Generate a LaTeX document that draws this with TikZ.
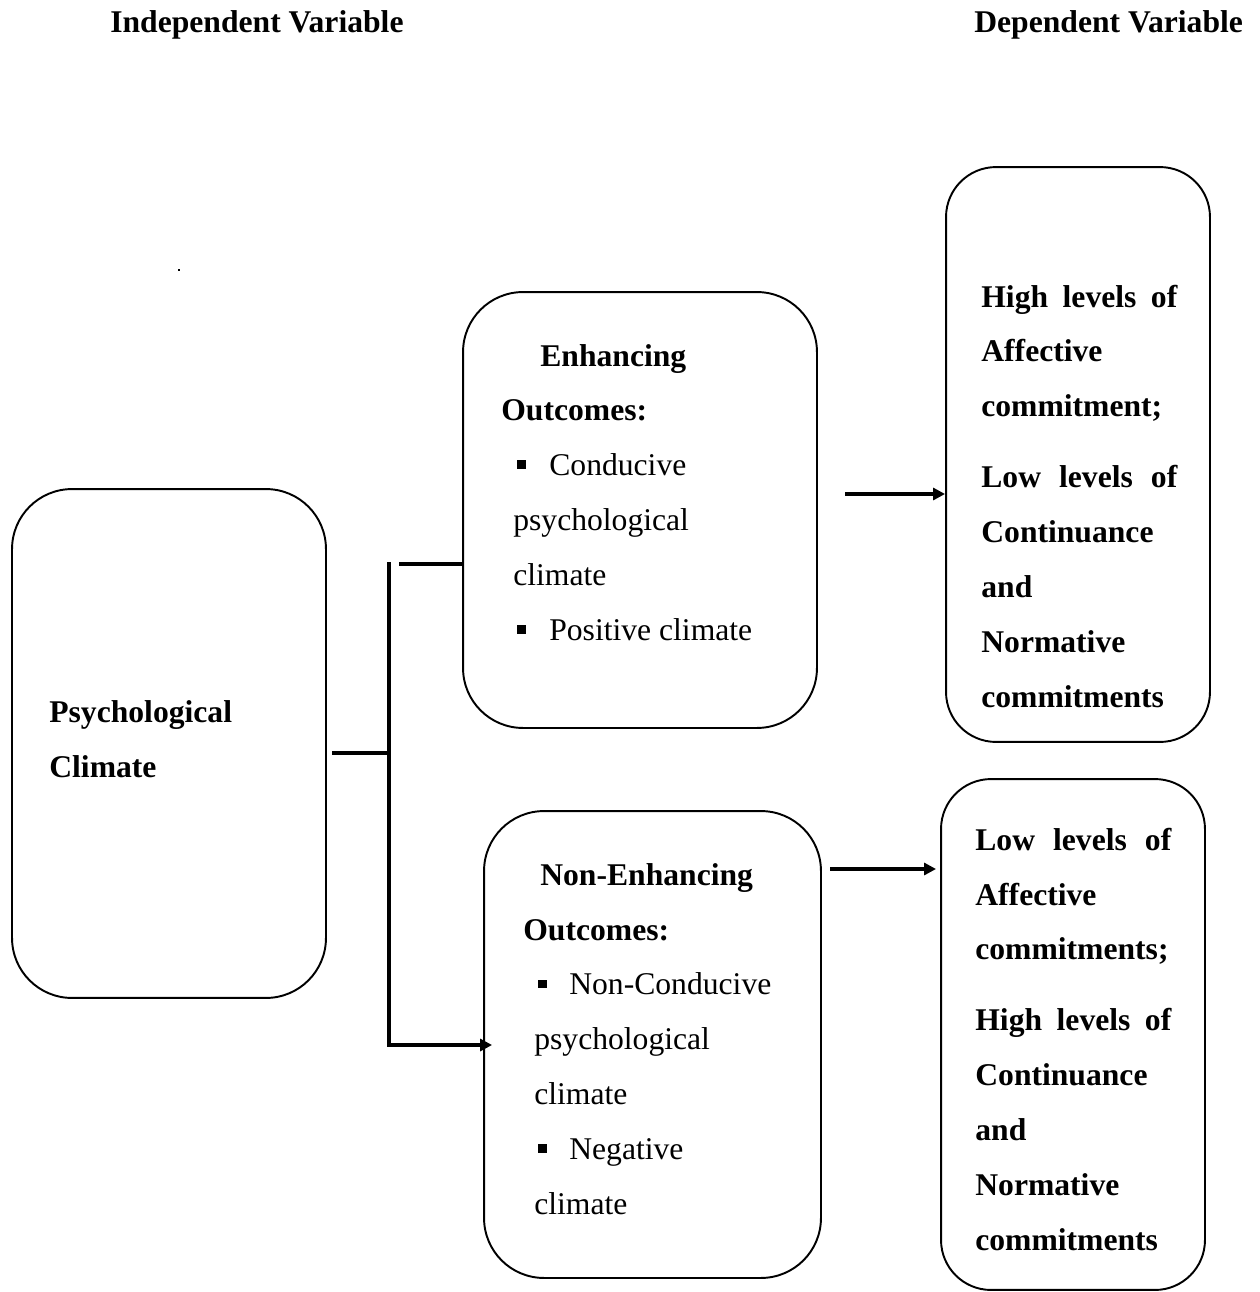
\documentclass[tikz,border=0pt]{standalone}
\usepackage{fontspec}
\setmainfont{Liberation Serif}
\usetikzlibrary{arrows.meta}
\newcommand\sqbullet{\rule[0.14cm]{0.17cm}{0.17cm}}
\begin{document}
\begin{tikzpicture}[x=0.02cm,y=-0.02cm,
  box/.style={draw, line width=1.1pt, rounded corners=1.2cm, inner sep=0pt},
  rbox/.style={box, rounded corners=1.0cm},
  txt/.style={anchor=base west, inner sep=0pt, font=\fontsize{18pt}{31.3pt}\selectfont},
  txtb/.style={txt, font=\fontsize{18pt}{31.3pt}\selectfont\bfseries},
  conn/.style={line width=1.8pt},
  arr/.style={conn, -{Triangle[length=0.24cm,width=0.24cm]}}]
\useasboundingbox (0,0) rectangle (1260,1292);

% headers
\node[txtb] (hind) at (110,32) {Independent Variable};
\node[txtb] (hdep) at (974,32) {Dependent Variable};

% small dot
\fill (178,269) rectangle (180,271);

% boxes
\node[box, minimum width=6.28cm, minimum height=10.18cm] (pc) at (169,743.5) {};
\node[box, minimum width=7.08cm, minimum height=8.72cm] (enh) at (640,510) {};
\node[box, minimum width=6.74cm, minimum height=9.34cm] (non) at (652.5,1044.5) {};
\node[rbox, minimum width=5.28cm, minimum height=11.5cm] (hi) at (1078,454.5) {};
\node[rbox, minimum width=5.28cm, minimum height=10.22cm] (lo) at (1073,1034.5) {};

% texts
\node[txtb] (pcT) at (49,722) {\begin{tabular}[t]{@{}l@{}}
Psychological\\
Climate
\end{tabular}};

\node[txt] (enhT) at (501,366) {\begin{tabular}[t]{@{}l@{}}
\hspace{0.78cm}\textbf{Enhancing}\\
\textbf{Outcomes:}\\
\hspace{0.32cm}\sqbullet\hspace{0.47cm}Conducive\\
\hspace{0.24cm}psychological\\
\hspace{0.24cm}climate\\
\hspace{0.32cm}\sqbullet\hspace{0.47cm}Positive climate
\end{tabular}};

\node[txt] (nonT) at (523,885) {\begin{tabular}[t]{@{}l@{}}
\hspace{0.34cm}\textbf{Non-Enhancing}\\
\textbf{Outcomes:}\\
\hspace{0.30cm}\sqbullet\hspace{0.45cm}Non-Conducive\\
\hspace{0.22cm}psychological\\
\hspace{0.22cm}climate\\
\hspace{0.30cm}\sqbullet\hspace{0.45cm}Negative\\
\hspace{0.22cm}climate
\end{tabular}};

\node[txtb] (hiT) at (981,307) {\begin{tabular}[t]{@{}l@{}}
\makebox[3.92cm][s]{High levels of}\\
Affective\\
commitment;\\[0.32cm]
\makebox[3.92cm][s]{Low levels of}\\
Continuance\\
and\\
Normative\\
commitments
\end{tabular}};

\node[txtb] (loT) at (975,850) {\begin{tabular}[t]{@{}l@{}}
\makebox[3.92cm][s]{Low levels of}\\
Affective\\
commitments;\\[0.32cm]
\makebox[3.92cm][s]{High levels of}\\
Continuance\\
and\\
Normative\\
commitments
\end{tabular}};

% connectors
\coordinate (s) at (332,753);
\coordinate (j) at (389,753);
\coordinate (bt) at (389,562);
\coordinate (bb) at (389,1045);
\coordinate (t1) at (399,564);
\coordinate (a1) at (845,494);
\coordinate (a2) at (830,869);

\draw[conn] (s) -- (j);
\draw[conn] (bt) -- (bb);
\draw[conn] (t1) -- (enh.west |- t1);
\draw[arr] ([xshift=-0.9pt]bb) -- ([xshift=0.18cm]non.west |- bb);
\draw[arr] (a1) -- (hi.west |- a1);
\draw[arr] (a2) -- ([xshift=-0.08cm]lo.west |- a2);
\end{tikzpicture}
\end{document}
